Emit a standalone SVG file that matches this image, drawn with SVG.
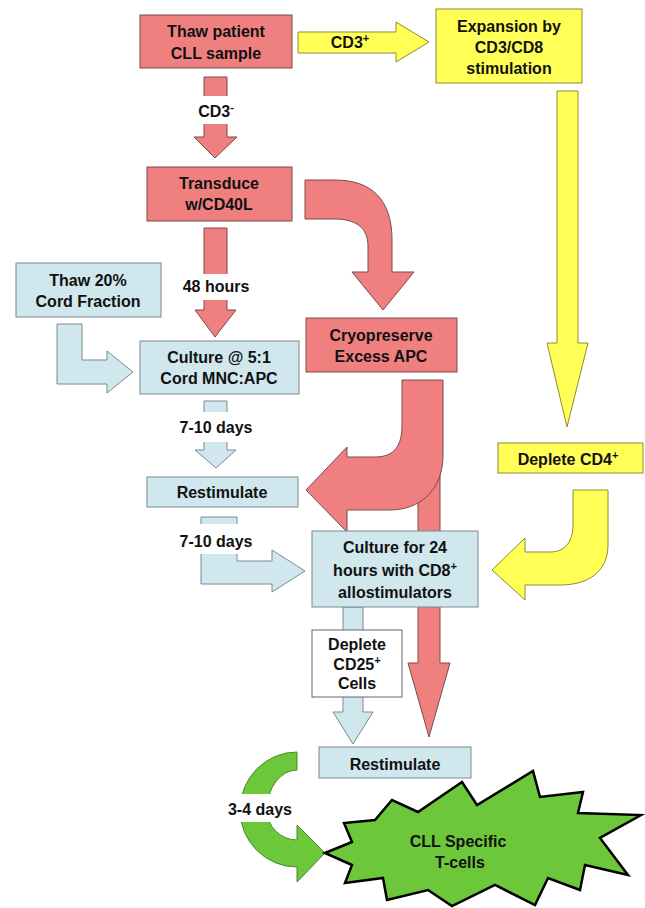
<svg xmlns="http://www.w3.org/2000/svg" width="645" height="908" viewBox="0 0 645 908">
<style>
text{font-family:"Liberation Sans",Arial,sans-serif;font-weight:bold;font-size:16px;fill:#111;text-anchor:middle}
.red{fill:#F08080;stroke:#7a4b4b;stroke-width:1}
.yel{fill:#FFFF55;stroke:#8c8c3a;stroke-width:1}
.blu{fill:#CFE7ED;stroke:#7a8a90;stroke-width:1}
.wht{fill:#fff;stroke:#666;stroke-width:1}
.grn{fill:#6CC83A;stroke:#4a8a2a;stroke-width:1}
.mask{fill:#fff;stroke:none}
.sup{font-size:11px}
</style>
<rect width="645" height="908" fill="#fff"/>
<g id="connectors">
  <!-- CD3+ arrow -->
  <path class="yel" d="M298,32 L396,32 L396,22 L429,42 L396,62 L396,53 L298,53 Z"/>
  <!-- long yellow down -->
  <path class="yel" d="M557,91 L578,91 L578,343 L588,343 L567,427 L547,343 L557,343 Z"/>
  <!-- yellow curved -->
  <path class="yel" d="M573,490 L608,490 L608,545 C608,572 588,585 560,585 L525,585 L525,600 L492,570 L525,538 L525,552 L550,552 C565,552 573,542 573,525 Z"/>
  <!-- CD3- arrow -->
  <path class="red" d="M204,77 L227,77 L227,137 L237,137 L215,158 L194,137 L204,137 Z"/>
  <rect class="mask" x="185" y="96" width="60" height="28"/>
  <!-- 48 hours arrow -->
  <path class="red" d="M204,228 L227,228 L227,310 L236,310 L215,337 L195,310 L204,310 Z"/>
  <rect class="mask" x="170" y="274" width="92" height="26"/>
  <!-- Transduce -> Cryopreserve curved -->
  <path class="red" d="M305,180 L335,180 C372,180 392,200 392,240 L392,272 L414,272 L383,310 L352,272 L368,272 L368,246 C368,228 356,219 335,219 L305,219 Z"/>
  <!-- long red vertical -->
  <path class="red" d="M418,410 L440,410 L440,663 L450,663 L429,737 L408,663 L418,663 Z"/>
  <!-- Cryopreserve -> Restimulate curved -->
  <path class="red" d="M402,380 L443,380 L443,455 C443,490 420,510 390,510 L347,510 L347,532 L306,490 L347,447 L347,457 L375,457 C395,457 402,445 402,425 Z"/>
  <!-- Thaw 20% L arrow -->
  <path class="blu" d="M57,324 L82,324 L82,360 L107,360 L107,351 L133,372 L107,393 L107,384 L57,384 Z"/>
  <!-- 7-10 days first -->
  <path class="blu" d="M204,401 L227,401 L227,450 L236,450 L216,468 L195,450 L204,450 Z"/>
  <rect class="mask" x="165" y="412" width="102" height="30"/>
  <!-- 7-10 days second (L) -->
  <path class="blu" d="M201,517 L237,517 L237,561 L272,561 L272,550 L305,571 L272,592 L272,584 L201,584 Z"/>
  <rect class="mask" x="165" y="524" width="102" height="30"/>
  <!-- Culture24 -> Deplete -> Restimulate -->
  <path class="blu" d="M343,607 L363,607 L363,712 L373,712 L353,744 L333,712 L343,712 Z"/>
  <!-- green curved arrow -->
  <path class="grn" d="M297,752 L297,770 A30,40 0 0 0 267,810 A30,30 0 0 0 297,840 L297,825 L325,853 L297,882 L297,867 A57,57 0 0 1 240,810 A57,58 0 0 1 297,752 Z"/>
  <rect class="mask" x="222" y="794" width="76" height="28"/>
  <text x="216" y="117">CD3<tspan class="sup" dy="-6">-</tspan></text>
  <text x="350" y="48">CD3<tspan class="sup" dy="-6">+</tspan></text>
  <text x="216" y="292">48 hours</text>
  <text x="216" y="433">7-10 days</text>
  <text x="216" y="547">7-10 days</text>
  <text x="260" y="815">3-4 days</text>
</g>
<g id="thaw-patient">
  <rect class="red" x="140" y="15" width="152" height="53"/>
  <text x="216" y="37">Thaw patient</text>
  <text x="216" y="59">CLL sample</text>
</g>
<g id="expansion">
  <rect class="yel" x="436" y="9" width="146" height="74"/>
  <text x="509" y="32">Expansion by</text>
  <text x="509" y="53">CD3/CD8</text>
  <text x="509" y="74">stimulation</text>
</g>
<g id="transduce">
  <rect class="red" x="147" y="167" width="145" height="54"/>
  <text x="219" y="189">Transduce</text>
  <text x="219" y="210">w/CD40L</text>
</g>
<g id="thaw-cord">
  <rect class="blu" x="16" y="263" width="145" height="54"/>
  <text x="88" y="286">Thaw 20%</text>
  <text x="88" y="307">Cord Fraction</text>
</g>
<g id="culture-5-1">
  <rect class="blu" x="140" y="341" width="159" height="53"/>
  <text x="219" y="363">Culture @ 5:1</text>
  <text x="219" y="384">Cord MNC:APC</text>
</g>
<g id="cryopreserve">
  <rect class="red" x="306" y="318" width="151" height="54"/>
  <text x="381" y="341">Cryopreserve</text>
  <text x="381" y="362">Excess APC</text>
</g>
<g id="restimulate-1">
  <rect class="blu" x="147" y="477" width="151" height="30"/>
  <text x="222" y="498">Restimulate</text>
</g>
<g id="deplete-cd4">
  <rect class="yel" x="498" y="443" width="145" height="30"/>
  <text x="568" y="465">Deplete CD4<tspan class="sup" dy="-6">+</tspan></text>
</g>
<g id="culture-24">
  <rect class="blu" x="312" y="531" width="166" height="76"/>
  <text x="395" y="553">Culture for 24</text>
  <text x="395" y="576">hours with CD8<tspan class="sup" dy="-6">+</tspan></text>
  <text x="395" y="598">allostimulators</text>
</g>
<g id="deplete-cd25">
  <rect class="wht" x="312" y="630" width="90" height="67"/>
  <text x="357" y="650">Deplete</text>
  <text x="357" y="670">CD25<tspan class="sup" dy="-6">+</tspan></text>
  <text x="357" y="689">Cells</text>
</g>
<g id="restimulate-2">
  <rect class="blu" x="319" y="747" width="152" height="31"/>
  <text x="395" y="770">Restimulate</text>
</g>
<g id="cll-tcells">
  <polygon fill="#6CC83A" stroke="#000" stroke-width="2.5" stroke-linejoin="miter" points="325,853 352,842 344,823 375,820 392,800 418,812 462,782 477,805 533,771 540,797 583,792 578,813 641,815 600,838 628,875 585,865 580,890 548,878 535,905 495,885 452,906 428,890 387,900 383,878 345,883 352,865"/>
  <text x="458" y="847">CLL Specific</text>
  <text x="460" y="868">T-cells</text>
</g>
</svg>
